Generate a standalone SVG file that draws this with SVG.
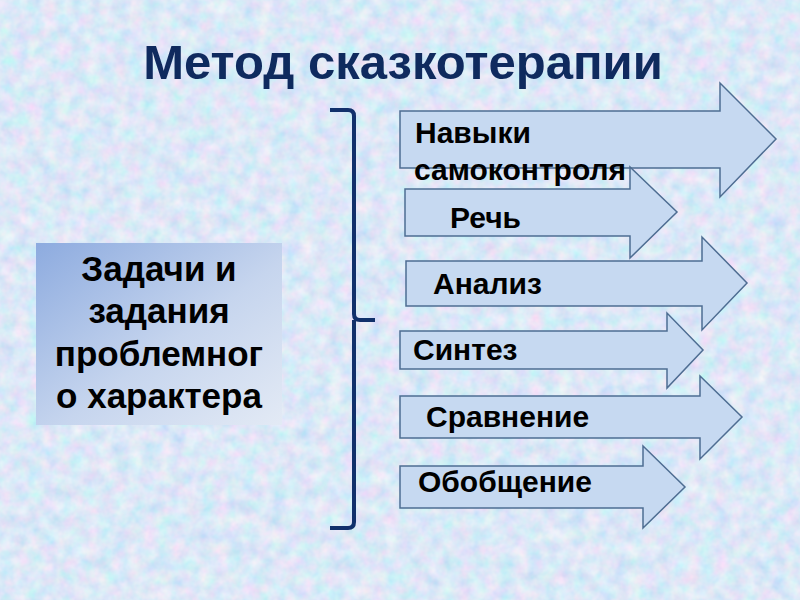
<svg xmlns="http://www.w3.org/2000/svg" width="800" height="600" viewBox="0 0 800 600">
<defs>
<filter id="tex" x="0" y="0" width="100%" height="100%">
<feTurbulence type="fractalNoise" baseFrequency="0.07" numOctaves="3" seed="4"/>
<feColorMatrix type="matrix" values="0.55 0 0 0 0.44  0 0.3 0 0 0.66  0 0 0.12 0 0.87  0 0 0 0 1"/>
</filter>
<linearGradient id="boxg" x1="0" y1="0" x2="1" y2="1">
<stop offset="0" stop-color="#8dabdf"/>
<stop offset="0.55" stop-color="#c6d5ee"/>
<stop offset="1" stop-color="#e3eaf5"/>
</linearGradient>
<style>
.arr{fill:#c6d9f1;stroke:#4e6d92;stroke-width:1.5}
.lbl{font-family:"Liberation Sans",Arial,sans-serif;font-weight:bold;font-size:30px;fill:#000}
.box{font-family:"Liberation Sans",Arial,sans-serif;font-weight:bold;font-size:35px;fill:#000;text-anchor:middle}
.title{font-family:"Liberation Sans",Arial,sans-serif;font-weight:bold;font-size:49px;fill:#0f2a5e;text-anchor:middle}
</style>
</defs>
<rect width="800" height="600" fill="#c0d4ee"/>
<rect width="800" height="600" filter="url(#tex)"/>
<g id="title"><text class="title" x="403" y="79">Метод сказкотерапии</text></g>
<g id="task">
<rect x="36" y="243" width="246" height="182" fill="url(#boxg)"/>
<text class="box" x="159" y="281">Задачи и</text>
<text class="box" x="159" y="323">задания</text>
<text class="box" x="159" y="366">проблемног</text>
<text class="box" x="159" y="408">о характера</text>
</g>
<g id="connectors">
<path d="M330,110 H348 Q354,110 354,116 V314 Q354,320 360,320 H375 M354,320 V522 Q354,528 348,528 H330" fill="none" stroke="#11306b" stroke-width="4" stroke-linejoin="round"/>
</g>
<g id="n1"><polygon class="arr" points="400,111 720,111 720,83 776,139 720,197 720,168 400,168"/>
</g>
<g id="n2"><polygon class="arr" points="405,189 630,189 630,167 677,212 630,258 630,236 405,236"/></g>
<g id="n3"><polygon class="arr" points="406,261 702,261 702,237 747,283 702,330 702,306 406,306"/><text class="lbl" x="433" y="294">Анализ</text></g>
<g id="n4"><polygon class="arr" points="400,331 667,331 667,313 703,350 667,388 667,369 400,369"/><text class="lbl" x="413" y="360">Синтез</text></g>
<g id="n5"><polygon class="arr" points="400,396 700,396 700,376 742,417 700,459 700,438 400,438"/><text class="lbl" x="426" y="427">Сравнение</text></g>
<g id="n6"><polygon class="arr" points="400,466 643,466 643,446 685,487 643,528 643,508 400,508"/><text class="lbl" x="418" y="492">Обобщение</text></g>
<g id="labels12">
<text class="lbl" x="415" y="143">Навыки</text>
<text class="lbl" x="414" y="180">самоконтроля</text>
<text class="lbl" x="450" y="228">Речь</text>
</g>
</svg>
